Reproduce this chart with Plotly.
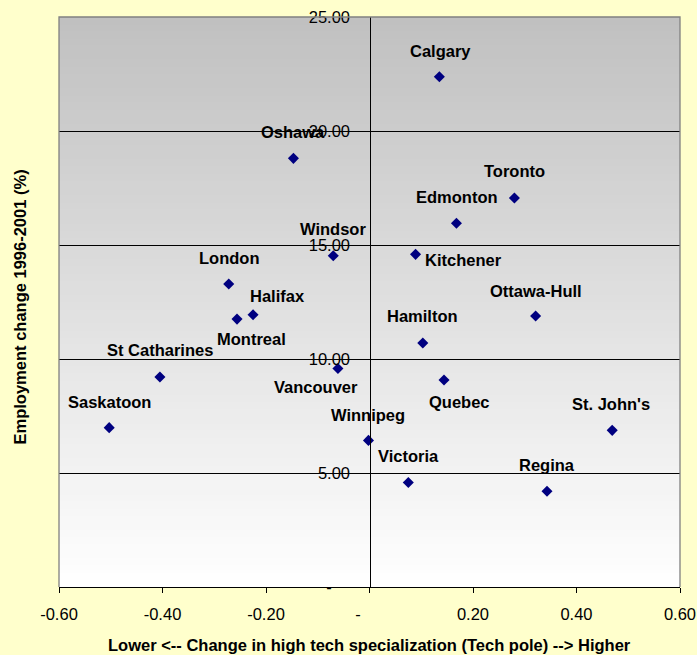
import plotly.graph_objects as go

# ---- data ----
cities = ["Calgary", "Oshawa", "Toronto", "Edmonton", "Windsor", "Kitchener",
          "London", "Halifax", "Montreal", "Ottawa-Hull", "Hamilton",
          "St Catharines", "Vancouver", "Quebec", "Saskatoon", "St. John's",
          "Winnipeg", "Victoria", "Regina"]
tech_change = [0.135, -0.147, 0.280, 0.168, -0.070, 0.089,
               -0.272, -0.225, -0.256, 0.321, 0.103,
               -0.405, -0.061, 0.144, -0.503, 0.469,
               -0.002, 0.075, 0.343]
employment_change = [22.38, 18.80, 17.06, 15.95, 14.53, 14.59,
                     13.29, 11.94, 11.75, 11.89, 10.70,
                     9.21, 9.58, 9.08, 6.99, 6.87,
                     6.43, 4.58, 4.20]

x_tickvals = [-0.6, -0.4, -0.2, 0.0, 0.2, 0.4, 0.6]
x_ticktext = ["-0.60", "-0.40", "-0.20", "-\u00a0\u00a0\u00a0\u00a0\u00a0", "0.20", "0.40", "0.60"]
y_tickvals = [0, 5, 10, 15, 20, 25]
y_ticktext = ["-\u00a0\u00a0\u00a0\u00a0", "5.00", "10.00", "15.00", "20.00", "25.00"]

# label offsets in pixels (dx right, dy down) - styling only
label_dx = [1, 0, 0, 1, 0, 48, 0, 24, 14, 0, 0, 0, -22, 15, 0, -1, 0, 0, 0]
label_dy = [-26, -26, -27, -26, -27, 6, -26, -19, 20, -25, -27, -27, 18, 22, -26, -26, -25, -27, -26]

FONT = "Liberation Sans, Arial, sans-serif"
FS = 16.5

fig = go.Figure()
fig.add_trace(go.Scatter(
    x=tech_change, y=employment_change, mode="markers",
    marker=dict(symbol="diamond", size=8.5, color="#000080", line=dict(width=0)),
    hoverinfo="text", text=cities, showlegend=False,
))

# gradient plot background (overlapping bands to avoid seams)
shapes = []
n = 80
for i in range(n):
    c = int(round(255 - (255 - 192) * (i + 0.5) / n))
    shapes.append(dict(type="rect", xref="paper", yref="paper",
                       x0=0, x1=1, y0=i / n, y1=min(1.0, (i + 1) / n + 0.006),
                       fillcolor=f"rgb({c},{c},{c})", line=dict(width=0),
                       layer="below"))
# gray border left, top, right
shapes.append(dict(type="path", xref="paper", yref="paper",
                   path="M 0,0 L 0,1 L 1,1 L 1,0",
                   line=dict(color="#808080", width=1.3), layer="above"))

annotations = []
for name, xv, yv, dx, dy in zip(cities, tech_change, employment_change, label_dx, label_dy):
    annotations.append(dict(x=xv, y=yv, xref="x", yref="y", text=f"<b>{name}</b>",
                            showarrow=False, xshift=dx, yshift=-dy,
                            xanchor="center", yanchor="middle",
                            font=dict(family=FONT, size=FS, color="black")))
annotations.append(dict(x=0.5, y=-0.1018, xref="paper", yref="paper",
                        text="<b>Lower <-- Change in high tech specialization (Tech pole) --> Higher</b>",
                        showarrow=False, xanchor="center", yanchor="middle",
                        font=dict(family=FONT, size=FS, color="black")))
annotations.append(dict(x=-0.0628, y=0.4904, xref="paper", yref="paper",
                        text="<b>Employment change 1996-2001 (%)</b>", textangle=-90,
                        showarrow=False, xanchor="center", yanchor="middle",
                        font=dict(family=FONT, size=FS, color="black")))

fig.update_layout(
    width=697, height=655,
    margin=dict(l=59, r=17, t=17, b=68, autoexpand=False),
    paper_bgcolor="#FFFFCC",
    plot_bgcolor="#FFFFFF",
    font=dict(family=FONT, size=FS, color="black"),
    shapes=shapes,
    annotations=annotations,
    xaxis=dict(range=[-0.6, 0.6], domain=[0, 1], anchor="y", automargin=False,
               tickvals=x_tickvals, ticktext=x_ticktext,
               showline=True, linecolor="black", linewidth=1.3,
               ticks="outside", ticklen=5, tickcolor="black", tickwidth=1.3,
               showgrid=False, zeroline=False, ticklabelstandoff=7,
               tickfont=dict(family=FONT, size=FS, color="black")),
    yaxis=dict(range=[0, 25], anchor="free", position=0.5, automargin=False,
               tickvals=y_tickvals, ticktext=y_ticktext,
               showline=True, linecolor="black", linewidth=1.3,
               ticks="", showgrid=True, gridcolor="#000000", gridwidth=1,
               zeroline=False, ticklabelstandoff=16,
               tickfont=dict(family=FONT, size=FS, color="black")),
    hovermode="closest",
)

fig.write_html(
    "out.html",
    config={"displayModeBar": False},
    post_script="document.body.style.margin='0';document.body.style.background='#FFFFCC';",
)
